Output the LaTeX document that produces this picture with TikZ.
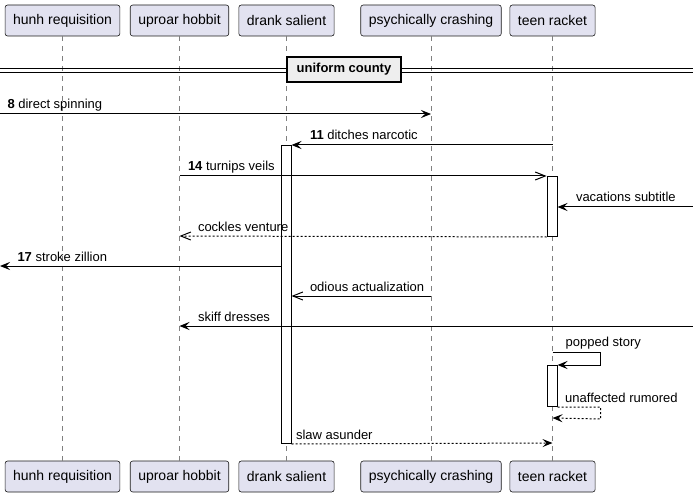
\documentclass[tikz,border=0pt]{standalone}
\usepackage{fontspec}
\setmainfont{Liberation Sans}
\usetikzlibrary{arrows.meta}

\definecolor{partyfill}{HTML}{E2E2F0}
\definecolor{sepfill}{HTML}{EEEEEE}

\tikzset{
  party/.style={draw=black!90, fill=partyfill, rounded corners=2.5pt, line width=0.6pt,
    inner xsep=8pt, minimum height=31pt, font=\fontsize{14}{16}\selectfont},
  lifeline/.style={draw=gray, line width=0.6pt, dash pattern=on 5pt off 5pt},
  actbox/.style={draw, fill=white, line width=1pt, inner sep=0pt, minimum width=10pt, anchor=north},
  msg/.style={line width=1pt, -{Stealth[length=10pt,width=8pt,inset=4pt]}},
  msgopen/.style={line width=1pt, -{Straight Barb[length=10pt,width=8pt]}},
  reply/.style={dash pattern=on 2pt off 2pt},
  lbl/.style={anchor=base west, inner sep=0pt, yshift=5pt, font=\fontsize{13}{15}\selectfont},
  divider/.style={draw, fill=sepfill, line width=1.5pt, minimum width=114pt, minimum height=25pt,
    inner sep=0pt, font=\fontsize{13}{15}\selectfont\bfseries},
}

\begin{document}
\begin{tikzpicture}[x=1pt, y=-1pt]
\useasboundingbox (0,0) rectangle (693,497);

% participants
\node[party] (hrT) at (62.5,20.5) {hunh requisition};
\node[party] (uhT) at (179.5,20.5) {uproar hobbit};
\node[party] (dsT) at (286.5,20.5) {drank salient};
\node[party] (pcT) at (431,20.5) {psychically crashing};
\node[party] (trT) at (552.5,20.5) {teen racket};

\node[party] (hrB) at (62.5,476.5) {hunh requisition};
\node[party] (uhB) at (179.5,476.5) {uproar hobbit};
\node[party] (dsB) at (286.5,476.5) {drank salient};
\node[party] (pcB) at (431,476.5) {psychically crashing};
\node[party] (trB) at (552.5,476.5) {teen racket};

\foreach \p in {hr,uh,ds,pc,tr}
  \draw[lifeline] (\p T.south) -- (\p B.north);

% separator
\draw[line width=0.8pt] (0,68) -- (693,68);
\draw[line width=0.8pt] (0,72) -- (693,72);
\node[divider] (sep) at (344,69.5) {uniform county};

% activations
\node[actbox, minimum height=298pt] (dsact) at (286,145) {};
\node[actbox, minimum height=60pt] (tract1) at (552,176) {};
\node[actbox, minimum height=41pt] (tract2) at (552,365) {};

% message rows
\coordinate (r8) at (0,114);
\coordinate (r11) at (0,145);
\coordinate (r15) at (693,207);
\coordinate (r16) at (0,236);
\coordinate (r17) at (0,266);
\coordinate (r18) at (0,296);
\coordinate (r19) at (693,326);
\coordinate (r20) at (0,352.5);
\coordinate (r21) at (0,418);
\coordinate (r22) at (0,443);

\draw[msg] (r8) -- (pcT |- r8) node[lbl, at start, xshift=7pt] (l8) {\textbf{8} direct spinning};
\draw[msg] (trT |- r11) -- (dsact.north east) node[lbl, at end, xshift=18pt] (l11) {\textbf{11} ditches narcotic};
\draw[msgopen] (uhT |- tract1.north) -- (tract1.north west) node[lbl, at start, xshift=8pt] (l14) {\textbf{14} turnips veils};
\draw[msg] (r15) -- (tract1.east |- r15) node[lbl, at end, xshift=18pt] (l15) {vacations subtitle};
\draw[msgopen, reply] (tract1.south west) -- (uhT |- r16) node[lbl, at end, xshift=18pt] (l16) {cockles venture};
\draw[msg] (dsact.west |- r17) -- (r17) node[lbl, at end, xshift=17pt] (l17) {\textbf{17} stroke zillion};
\draw[msgopen] (pcT |- r18) -- (dsact.east |- r18) node[lbl, at end, xshift=18pt] (l18) {odious actualization};
\draw[msg] (r19) -- (uhT |- r19) node[lbl, at end, xshift=18pt] (l19) {skiff dresses};
\draw[msg] (trT |- r20) -- ++(48,0) -- ++(0,12.5) -- (tract2.north east);
\node[lbl, yshift=1pt] (l20) at ([xshift=13pt]trT |- r20) {popped story};
\draw[msg, reply] (tract2.south east) -- ++(43,0) -- ++(0,12) -- (trT |- r21);
\node[lbl] (l21) at ([xshift=13pt]tract2.south) {unaffected rumored};
\draw[msg, reply] (dsact.south east) -- (trT |- r22) node[lbl, at start, xshift=4pt] (l22) {slaw asunder};

\end{tikzpicture}
\end{document}
